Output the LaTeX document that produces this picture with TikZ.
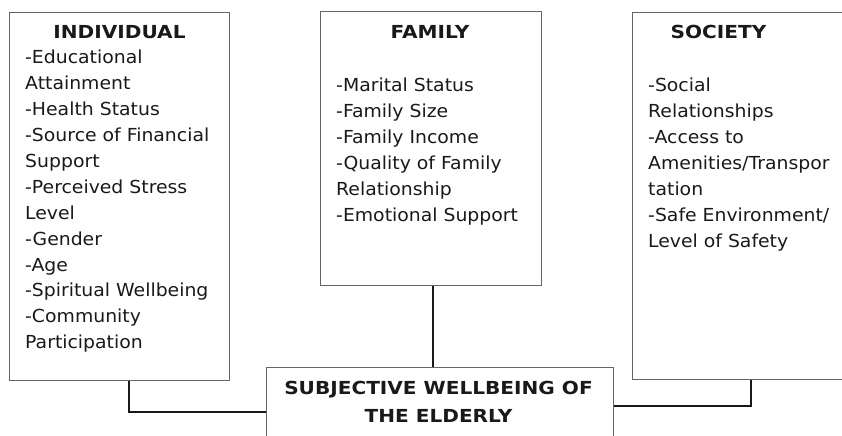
\documentclass[tikz,border=0pt]{standalone}
\usepackage{fontspec}
\setmainfont[FakeStretch=1.05]{DejaVu Sans}
\newfontfamily\headfont[FakeStretch=1.12]{DejaVu Sans Bold}
\usetikzlibrary{positioning}

\begin{document}
\begin{tikzpicture}[x=1bp,y=-1bp,
  frame/.style={draw=black!60,line width=1bp,inner sep=0pt,anchor=north west},
  head/.style={font=\headfont\fontsize{18}{28}\selectfont,text=black!90,inner sep=0pt,align=center},
  items/.style={font=\fontsize{18}{26}\selectfont,text=black!90,inner sep=0pt,align=left,anchor=north west},
  link/.style={draw=black!90,line width=2bp}]
  \clip (0,0) rectangle (842,436);
  % the three factor boxes and the outcome box
  \node[frame,minimum width=220bp,minimum height=368bp] (indiv) at (9,12) {};
  \node[frame,minimum width=221bp,minimum height=274bp] (fam) at (320,11) {};
  \node[frame,minimum width=216bp,minimum height=367bp] (soc) at (632,12) {};
  \node[frame,minimum width=347bp,minimum height=82bp] (goal) at (266,367) {};

  % headings
  \node[head] (indivhead) at ([yshift=-20bp]indiv.north) {INDIVIDUAL};
  \node[head] (famhead) at ([xshift=-1bp,yshift=-21bp]fam.north) {FAMILY};
  \node[head] (sochead) at ([xshift=-22bp,yshift=-20bp]soc.north) {SOCIETY};
  \node[head,anchor=north] (goalhead) at ([xshift=-1.5bp,yshift=-14bp]goal.north)
    {SUBJECTIVE WELLBEING OF\\THE ELDERLY};

  % factor lists
  \node[items] (indivlist) at ([xshift=16bp,yshift=-38bp]indiv.north west)
    {-Educational\\Attainment\\-Health Status\\-Source of Financial\\Support\\
     -Perceived Stress\\Level\\-Gender\\-Age\\-Spiritual Wellbeing\\
     -Community\\Participation};
  \node[items] (famlist) at ([xshift=16bp,yshift=-67bp]fam.north west)
    {-Marital Status\\-Family Size\\-Family Income\\-Quality of Family\\
     Relationship\\-Emotional Support};
  \node[items] (soclist) at ([xshift=16bp,yshift=-66bp]soc.north west)
    {-Social\\Relationships\\-Access to\\Amenities/Transpor\\tation\\
     -Safe Environment/\\Level of Safety};

  % connectors
  \draw[link] ([xshift=9bp]indiv.south) |- ([yshift=-3bp]goal.west);
  \draw[link] ([xshift=2bp]fam.south) -- ([xshift=2bp]fam.south |- goal.north);
  \draw[link] ([xshift=10bp]soc.south) |- ([yshift=3bp]goal.east);
\end{tikzpicture}
\end{document}
